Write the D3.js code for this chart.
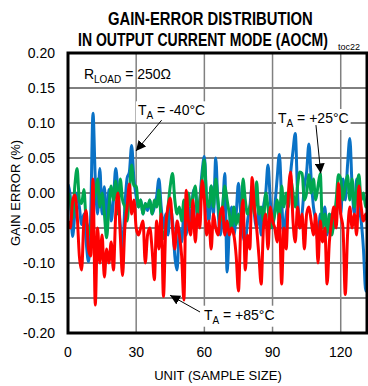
<!DOCTYPE html>
<html>
<head>
<meta charset="utf-8">
<script src="https://cdn.jsdelivr.net/npm/d3@7"></script>
<style>
  body { margin: 0; background: #fff; }
  svg { display: block; font-family: "Liberation Sans", Arial, sans-serif; }
</style>
</head>
<body>
<svg id="chart" width="368" height="386"></svg>
<script>
// tick values
const xTicks = [0, 30, 60, 90, 120];
const yTicks = [-0.20, -0.15, -0.10, -0.05, 0.00, 0.05, 0.10, 0.15, 0.20];

// gain error (%) per unit
const blue40 = [
  0.012, -0.005, -0.062, -0.03, 0.0, -0.02, -0.045, -0.03, -0.07, -0.098,
  -0.03, 0.114, 0.02, -0.03, 0.035, -0.03, 0.009, -0.05, 0.005, -0.04,
  -0.01, 0.035, 0.0, -0.046, -0.08, -0.02, 0.021, 0.03, 0.068, 0.02,
  -0.005, -0.02, -0.01, -0.03, -0.015, -0.025, -0.01, -0.03, -0.02, -0.005,
  0.02, -0.02, -0.05, -0.03, -0.06, -0.02, -0.04, -0.09, -0.11, -0.05,
  -0.07, -0.03, -0.06, -0.02, -0.05, 0.0, 0.007, -0.04, -0.01, 0.03,
  0.052, -0.01, -0.04, 0.01, -0.03, 0.05, -0.02, -0.06, -0.03, 0.028,
  -0.113, -0.05, -0.02, -0.06, -0.03, 0.014, -0.03, -0.06, -0.07, -0.04,
  -0.02, 0.01, -0.03, -0.05, -0.02, -0.06, -0.02, 0.0, 0.04, -0.01,
  -0.05, -0.02, 0.02, 0.055, -0.01, -0.06, -0.03, -0.01, 0.03, 0.06,
  0.085, 0.0, -0.05, -0.03, 0.01, 0.03, 0.07, 0.02, -0.02, -0.04,
  -0.07, -0.03, -0.05, -0.02, -0.06, -0.04, -0.03, -0.05, -0.02, 0.0,
  -0.03, 0.02, -0.01, 0.04, 0.078, 0.01, -0.03, 0.02, -0.02, -0.04,
  -0.08, -0.14, -0.10
];
const green25 = [
  0.0, -0.01, -0.036, 0.01, 0.035, -0.01, -0.015, 0.005, -0.04, -0.05,
  -0.06, -0.02, 0.0, 0.02, -0.02, 0.0, -0.03, -0.064, -0.02, 0.01,
  -0.01, 0.017, -0.03, 0.02, -0.01, -0.02, -0.04, 0.0, 0.04, 0.01,
  0.01, -0.02, -0.01, -0.03, -0.015, -0.02, -0.01, -0.03, -0.01, -0.02,
  0.004, -0.04, -0.065, -0.05, -0.02, 0.01, 0.028, -0.01, -0.03, -0.02,
  -0.04, -0.01, -0.03, 0.0, -0.02, -0.005, 0.01, -0.03, -0.01, 0.02,
  0.047, -0.01, -0.02, 0.01, -0.02, 0.02, -0.01, -0.04, -0.02, 0.01,
  -0.01, -0.03, -0.05, -0.02, -0.045, -0.03, -0.05, 0.02, -0.01, -0.03,
  -0.02, -0.01, -0.03, 0.016, -0.03, -0.02, -0.04, 0.0, -0.02, -0.05,
  -0.045, -0.03, -0.01, -0.04, 0.01, -0.02, 0.0, -0.02, 0.02, 0.0,
  -0.02, 0.01, 0.03, 0.028, -0.01, 0.0, 0.026, 0.0, 0.02, -0.01,
  0.01, 0.028, -0.05, -0.03, -0.055, -0.03, -0.06, -0.04, -0.01, 0.026,
  0.02, -0.01, 0.01, 0.025, -0.01, 0.02, -0.02, 0.005, 0.026, -0.01,
  0.0, -0.02, -0.01
];
const red85 = [
  -0.04, -0.05, -0.013, -0.003, -0.03, -0.09, -0.11, -0.04, -0.025, -0.08,
  -0.09, 0.02, -0.16, -0.05, -0.1, -0.06, -0.12, -0.08, -0.1, -0.07,
  -0.11, -0.03, 0.0, -0.06, -0.118, -0.05, -0.02, 0.013, -0.03, -0.01,
  -0.05, -0.06, -0.05, -0.04, -0.1, -0.06, -0.05, -0.08, -0.124, -0.04,
  -0.08, -0.03, -0.148, -0.05, -0.02, -0.007, -0.05, -0.08, -0.04, -0.06,
  -0.09, -0.153, 0.004, -0.04, -0.06, -0.01, -0.07, -0.03, -0.05, 0.018,
  -0.01, -0.06, -0.04, -0.08, -0.03, -0.05, -0.06, -0.03, -0.02, -0.06,
  -0.04, -0.06, -0.05, -0.06, -0.09, -0.14, -0.05, -0.01, -0.11, -0.06,
  -0.08, 0.022, -0.02, -0.05, -0.09, -0.13, -0.05, -0.03, -0.08, -0.02,
  -0.04, -0.05, -0.07, -0.03, -0.13, -0.05, -0.08, 0.0, 0.03, -0.04,
  -0.07, -0.02, -0.05, -0.03, -0.08, -0.03, -0.02, -0.04, -0.06, -0.03,
  -0.1, -0.04, -0.07, -0.05, -0.13, -0.07, -0.04, -0.02, -0.05, 0.014,
  -0.03, -0.05, -0.145, -0.06, -0.02, -0.05, -0.03, -0.06, 0.01, -0.02,
  -0.04, -0.03, -0.05
];

const svg = d3.select('#chart');
const plot = { left: 68, right: 368, top: 53, bottom: 333 };

const x = d3.scaleLinear().domain([0, 132]).range([plot.left, plot.right]);
const y = d3.scaleLinear().domain([-0.2, 0.2]).range([plot.bottom, plot.top]);

const defs = svg.append('defs');
defs.append('clipPath').attr('id', 'plot-clip')
  .append('rect')
  .attr('x', plot.left).attr('y', plot.top)
  .attr('width', plot.right - plot.left).attr('height', plot.bottom - plot.top);

// arrow head
defs.append('marker')
  .attr('id', 'arrow')
  .attr('viewBox', '0 0 10 10')
  .attr('refX', 10).attr('refY', 5)
  .attr('markerWidth', 10).attr('markerHeight', 10)
  .attr('markerUnits', 'userSpaceOnUse')
  .attr('orient', 'auto')
  .append('path')
  .attr('d', 'M0,0 L10,5 L0,10 Z')
  .attr('fill', '#000');

// horizontal grid (black)
svg.append('g')
  .selectAll('line')
  .data(yTicks.slice(1, -1))
  .enter()
  .append('line')
  .attr('x1', plot.left).attr('x2', plot.right)
  .attr('y1', d => y(d)).attr('y2', d => y(d))
  .attr('stroke', '#000')
  .attr('stroke-width', 1);

// vertical grid (gray)
svg.append('g')
  .selectAll('line')
  .data(xTicks.slice(1))
  .enter()
  .append('line')
  .attr('x1', d => x(d)).attr('x2', d => x(d))
  .attr('y1', plot.top).attr('y2', plot.bottom)
  .attr('stroke', '#808080')
  .attr('stroke-width', 1.5);

// data lines
const line = d3.line()
  .x((d, i) => x(i))
  .y(d => y(d))
  .curve(d3.curveMonotoneX);

const series = [
  { values: blue40, color: '#0a72c6' },
  { values: green25, color: '#00a650' },
  { values: red85, color: '#ff0000' }
];

svg.append('g')
  .attr('clip-path', 'url(#plot-clip)')
  .selectAll('path')
  .data(series)
  .enter()
  .append('path')
  .attr('d', d => line(d.values))
  .attr('fill', 'none')
  .attr('stroke', d => d.color)
  .attr('stroke-width', 3)
  .attr('stroke-linejoin', 'round');

// frame
svg.append('rect')
  .attr('x', plot.left).attr('y', plot.top)
  .attr('width', plot.right - 1 - plot.left).attr('height', plot.bottom - plot.top)
  .attr('fill', 'none')
  .attr('stroke', '#000')
  .attr('stroke-width', 3);

// tick labels
svg.append('g')
  .selectAll('text')
  .data(yTicks)
  .enter()
  .append('text')
  .attr('x', 55)
  .attr('y', d => y(d))
  .attr('dy', '0.36em')
  .attr('text-anchor', 'end')
  .attr('font-size', 14)
  .text(d => d3.format('.2f')(d).replace('−', '-'));

svg.append('g')
  .selectAll('text')
  .data(xTicks)
  .enter()
  .append('text')
  .attr('x', d => x(d))
  .attr('y', 357)
  .attr('text-anchor', 'middle')
  .attr('font-size', 14)
  .text(d => d);

// axis titles
svg.append('text')
  .attr('x', 218).attr('y', 380)
  .attr('text-anchor', 'middle')
  .attr('font-size', 13)
  .text('UNIT (SAMPLE SIZE)');

svg.append('text')
  .attr('transform', 'translate(20,193) rotate(-90)')
  .attr('text-anchor', 'middle')
  .attr('font-size', 13)
  .text('GAIN ERROR (%)');

// title, squeezed horizontally to look condensed
function squeezedTitle(tx, ty, width, str) {
  const t = svg.append('text')
    .attr('font-size', 18).attr('font-weight', 'bold')
    .text(str);
  const natural = t.node().getComputedTextLength();
  t.attr('transform', `translate(${tx},${ty}) scale(${width / natural},1)`);
}
squeezedTitle(108, 25, 205, 'GAIN-ERROR DISTRIBUTION');
squeezedTitle(78, 46, 250, 'IN OUTPUT CURRENT MODE (AOCM)');

svg.append('text')
  .attr('x', 338).attr('y', 50)
  .attr('font-size', 9)
  .text('toc22');

// labels with subscript
function subLabel(px, py, main, sub, rest, boxed) {
  const g = svg.append('g');
  const bg = g.append('rect').attr('fill', '#fff');
  const t = g.append('text')
    .attr('x', px).attr('y', py)
    .attr('font-size', 14);
  t.append('tspan').text(main);
  t.append('tspan').attr('font-size', 10).attr('dy', 4).text(sub);
  t.append('tspan').attr('dy', -4).text(rest);
  if (boxed) {
    const b = t.node().getBBox();
    bg.attr('x', b.x - 2).attr('y', b.y - 1)
      .attr('width', b.width + 4).attr('height', b.height + 2);
  }
  return t;
}

subLabel(x(7), y(0.163), 'R', 'LOAD', ' = 250Ω', false);
subLabel(x(30.8), y(0.111), 'T', 'A', ' = -40°C', true);
subLabel(x(92.4), y(0.1), 'T', 'A', ' = +25°C', true);
subLabel(x(59.8), y(-0.181), 'T', 'A', ' = +85°C', true);

// arrows
const arrows = [
  { from: [41.2, 0.104], to: [29.9, 0.060] },
  { from: [109.1, 0.097], to: [111.2, 0.028] },
  { from: [58.1, -0.170], to: [44.9, -0.146] }
];

svg.append('g')
  .selectAll('line')
  .data(arrows)
  .enter()
  .append('line')
  .attr('x1', d => x(d.from[0])).attr('y1', d => y(d.from[1]))
  .attr('x2', d => x(d.to[0])).attr('y2', d => y(d.to[1]))
  .attr('stroke', '#000')
  .attr('stroke-width', 1)
  .attr('marker-end', 'url(#arrow)');
</script>
</body>
</html>
